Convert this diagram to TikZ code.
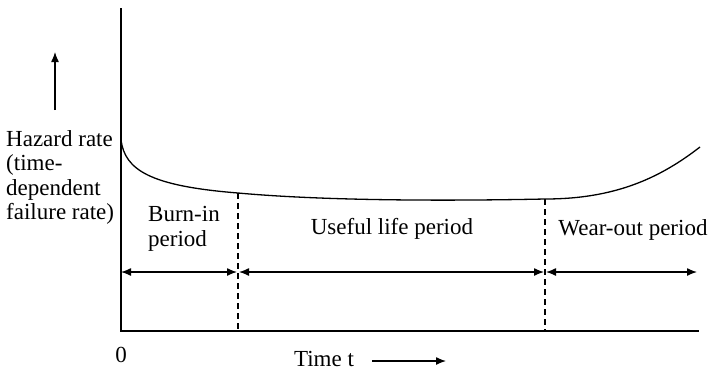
\documentclass[tikz,border=0pt]{standalone}
\usepackage{fontspec}
\setmainfont{Liberation Serif}
\usetikzlibrary{arrows.meta}
\begin{document}
\begin{tikzpicture}[x=1pt,y=-1pt,
  axis/.style={line width=1.5pt},
  curve/.style={line width=1.3pt},
  bound/.style={line width=1.2pt,dash pattern=on 6pt off 4pt},
  span/.style={line width=1.3pt,{Latex[length=10pt,width=8pt]}-{Latex[length=10pt,width=8pt]}},
  dir/.style={line width=1.3pt,-{Latex[length=10pt,width=8pt]}},
  lbl/.style={inner sep=0pt,font=\fontsize{23}{24.5}\selectfont}]
\useasboundingbox (0,0) rectangle (710,373);

% axes
\coordinate (top) at (121,8);
\coordinate (o) at (121,331);
\coordinate (xend) at (699,331);
\draw[axis] (top) -- (o) -- (xend);

% bathtub curve
\coordinate (c0) at (121,140);
\coordinate (c1) at (238,193);
\coordinate (c2) at (545,199);
\coordinate (c3) at (700,147);
\draw[curve] (c0) .. controls (125,170) and (150,186) .. (c1)
  .. controls (326,201) and (450,201) .. (c2)
  .. controls (615,199) and (660,178) .. (c3);

% period boundaries
\coordinate (b1) at (238,331);
\coordinate (b2) at (545,331);
\draw[bound] (c1) -- (b1);
\draw[bound] (c2) -- (b2);

% period spans
\coordinate (s0) at (121,272);
\coordinate (s1) at (238,272);
\coordinate (s2) at (545,272);
\coordinate (s3) at (697,272);
\draw[span] (s0) -- ([xshift=-1pt]s1);
\draw[span] ([xshift=1pt]s1) -- ([xshift=-1pt]s2);
\draw[span] ([xshift=1pt]s2) -- (s3);

% labels
\node[lbl,anchor=north west,align=left] (hz) at (6,130) {Hazard rate\\(time-\\dependent\\failure rate)};
\coordinate (up0) at (55,110);
\coordinate (up1) at (55,52);
\draw[dir] (up0) -- (up1);

\node[lbl,align=left] (burn) at (184,229) {Burn-in\\period};
\node[lbl] (useful) at (392,229) {Useful life period};
\node[lbl] (wear) at (633,230) {Wear-out period};

\node[lbl] (zero) at (121,355) {0};
\node[lbl] (time) at (324,359) {Time t};
\coordinate (t0) at (372,361);
\coordinate (t1) at (446,361);
\draw[dir] (t0) -- (t1);
\end{tikzpicture}
\end{document}
